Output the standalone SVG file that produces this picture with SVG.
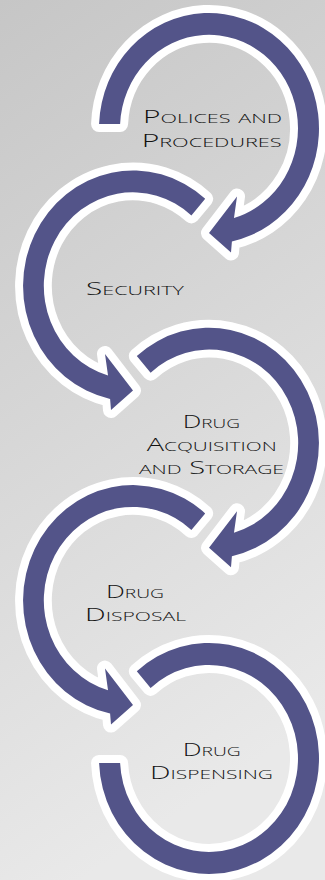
<svg xmlns="http://www.w3.org/2000/svg" width="325" height="880" viewBox="0 0 325 880">
  <style>
    .arr { fill: #535489; stroke: #ffffff; stroke-width: 16; stroke-linejoin: round; paint-order: stroke; }
    .lbl { font-family: "Open Sans", "DejaVu Sans", "Liberation Sans", sans-serif; font-weight: 300; font-size: 18px; font-variant: small-caps; fill: #111111; }
  </style>
  <defs>
    <linearGradient id="bg" x1="0" y1="0" x2="0.25" y2="1">
      <stop offset="0" stop-color="#c6c6c6"/>
      <stop offset="1" stop-color="#e9e9e9"/>
    </linearGradient>
    <path id="arrFirst" d="M -109.92 -4.5 A 110 115.5 0 1 1 22.9 112.95 L 22 124 L 0 104.5 L 28 68 L 24.98 89.58 A 89 93.5 0 1 0 -88.9 -4.5 Z"/>
    <path id="arrMid" d="M -72.2 -87.2 A 110 115.5 0 1 1 22.9 112.95 L 22 124 L 0 104.5 L 28 68 L 24.98 89.58 A 89 93.5 0 1 0 -58.4 -70.6 Z"/>
    <path id="arrLast" d="M -72.2 -87.2 A 110 115.5 0 1 1 -109.92 4.5 L -88.9 4.5 A 89 93.5 0 1 0 -58.4 -70.6 Z"/>
  </defs>
  <rect x="0" y="0" width="325" height="880" fill="url(#bg)"/>

  <g id="connectors"/>

  <g id="node1">
    <use href="#arrFirst" class="arr" transform="translate(209,128.5)"/>
    <text class="lbl"><tspan x="143" y="122.7" textLength="139" lengthAdjust="spacingAndGlyphs">Polices and</tspan><tspan x="141.7" y="146.7" textLength="140" lengthAdjust="spacingAndGlyphs">Procedures</tspan></text>
  </g>
  <g id="node2">
    <use href="#arrMid" class="arr" transform="translate(133,286) scale(-1,1)"/>
    <text class="lbl" x="86" y="295" textLength="98" lengthAdjust="spacingAndGlyphs">Security</text>
  </g>
  <g id="node3">
    <use href="#arrMid" class="arr" transform="translate(209,443.25)"/>
    <text class="lbl"><tspan x="182.7" y="428.3" textLength="57.3" lengthAdjust="spacingAndGlyphs">Drug</tspan><tspan x="146.7" y="451" textLength="130" lengthAdjust="spacingAndGlyphs">Acquisition</tspan><tspan x="139" y="474" textLength="145" lengthAdjust="spacingAndGlyphs">and Storage</tspan></text>
  </g>
  <g id="node4">
    <use href="#arrMid" class="arr" transform="translate(133,600.6) scale(-1,1)"/>
    <text class="lbl"><tspan x="106" y="598" textLength="58" lengthAdjust="spacingAndGlyphs">Drug</tspan><tspan x="85" y="620.8" textLength="101" lengthAdjust="spacingAndGlyphs">Disposal</tspan></text>
  </g>
  <g id="node5">
    <use href="#arrLast" class="arr" transform="translate(209,758.5)"/>
    <text class="lbl"><tspan x="182.7" y="756" textLength="58" lengthAdjust="spacingAndGlyphs">Drug</tspan><tspan x="150" y="778.8" textLength="123" lengthAdjust="spacingAndGlyphs">Dispensing</tspan></text>
  </g>
</svg>
